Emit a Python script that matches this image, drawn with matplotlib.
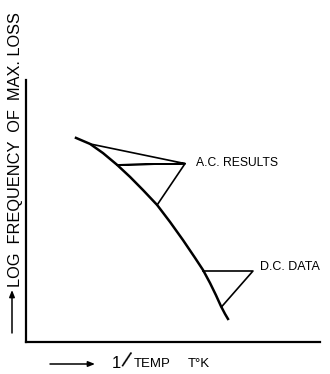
import matplotlib.pyplot as plt
from matplotlib.patches import FancyArrowPatch

plt.rcParams['font.family'] = ['Liberation Sans', 'DejaVu Sans']

# relaxation curve: 1/T against log frequency of max. loss (arbitrary units)
inv_temp = [1.70, 2.18, 2.62, 3.10, 3.54, 3.98, 4.46, 4.90, 5.34, 5.75,
            6.02, 6.26, 6.46, 6.63, 6.77, 6.87]
log_freq = [7.79, 7.56, 7.21, 6.76, 6.30, 5.80, 5.23, 4.58, 3.89, 3.21,
            2.75, 2.25, 1.79, 1.37, 1.07, 0.88]

# label pointer triangles
ac_x = [2.18, 5.41, 3.10, 5.41, 4.46]
ac_y = [7.56, 6.81, 6.76, 6.81, 5.23]
dc_x = [6.02, 7.72, 6.65]
dc_y = [2.71, 2.71, 1.34]

W, H = 330, 374
fig = plt.figure(figsize=(W / 100, H / 100), dpi=100)
ax = fig.add_axes([26 / W, 32 / H, 294 / W, 262 / H])

ax.plot(inv_temp, log_freq, color='black', lw=1.8, solid_joinstyle='round')
ax.plot(ac_x, ac_y, color='black', lw=1.2)
ax.plot(dc_x, dc_y, color='black', lw=1.2)

ax.text(5.78, 6.83, 'A.C. RESULTS', fontsize=8.7, va='center', ha='left')
ax.text(7.95, 2.85, 'D.C. DATA', fontsize=9, va='center', ha='left')

ax.set_xlim(0, 10)
ax.set_ylim(0, 10)
ax.set_xticks([])
ax.set_yticks([])
for s in ['top', 'right']:
    ax.spines[s].set_visible(False)
for s in ['left', 'bottom']:
    ax.spines[s].set_linewidth(1.6)


def fig_arrow(p0, p1):
    fig.add_artist(FancyArrowPatch(
        (p0[0] / W, 1 - p0[1] / H), (p1[0] / W, 1 - p1[1] / H),
        transform=fig.transFigure,
        arrowstyle='-|>,head_length=4,head_width=1.6',
        lw=1.1, color='black', shrinkA=0, shrinkB=0))


# axis captions with arrows
fig.text(16 / W, 1 - 150 / H, 'LOG  FREQUENCY  OF  MAX. LOSS', rotation=90,
         fontsize=11.8, ha='center', va='center')
fig_arrow((12, 333), (12, 290))
fig_arrow((50, 364), (95, 364))
fig.text(112 / W, 1 - 363 / H, '1', fontsize=12, ha='left', va='center')
fig.text(126 / W, 1 - 362 / H, '/', fontsize=16, ha='center', va='center',
         rotation=-18, rotation_mode='anchor')
fig.text(134 / W, 1 - 364 / H, 'TEMP', fontsize=9.5, ha='left', va='center')
fig.text(188 / W, 1 - 364 / H, 'T°K', fontsize=9.5, ha='left', va='center')

fig.savefig('out.png', dpi=100)
